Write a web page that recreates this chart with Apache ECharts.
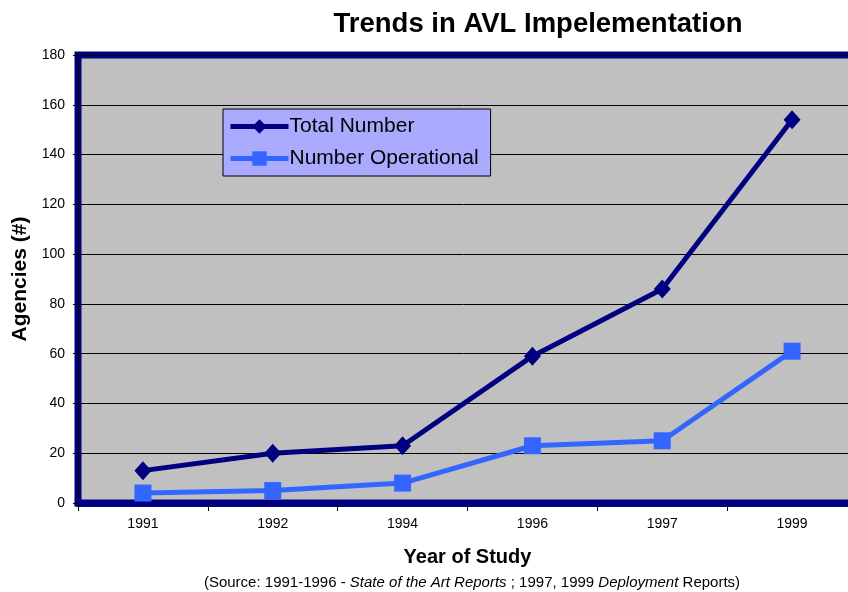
<!DOCTYPE html>
<html>
<head>
<meta charset="utf-8">
<script src="https://cdn.jsdelivr.net/npm/echarts@6/dist/echarts.min.js"></script>
<style>
html, body { margin: 0; padding: 0; background: #fff; }
#main { width: 848px; height: 592px; }
</style>
</head>
<body>
<div id="main"></div>
<script>
var years = ['1991', '1992', '1994', '1996', '1997', '1999'];
var totalNumber = [13, 20, 23, 59, 86, 154];
var numberOperational = [4, 5, 8, 23, 25, 61];
var yTicks = { min: 0, max: 180, interval: 20 };

var font = '"Liberation Sans", Arial, sans-serif';

var option = {
    backgroundColor: '#fff',
    animation: false,
    title: [{
        text: 'Trends in AVL Impelementation',
        left: 533,
        top: 5,
        textAlign: 'center',
        textStyle: { fontFamily: font, fontSize: 27.5, fontWeight: 'bold', color: '#000' }
    }, {
        text: '{n|(Source: 1991-1996 - }{i|State of the Art Reports}{n| ; 1997, 1999 }{i|Deployment}{n| Reports)}',
        left: 467,
        top: 570,
        textAlign: 'center',
        textStyle: {
            fontWeight: 'normal',
            rich: {
                n: { fontFamily: font, fontSize: 15, color: '#000', fontWeight: 'normal' },
                i: { fontFamily: font, fontSize: 15, color: '#000', fontWeight: 'normal', fontStyle: 'italic' }
            }
        }
    }],
    legend: {
        orient: 'vertical',
        left: 223,
        top: 109,
        backgroundColor: '#aaaaff',
        borderColor: '#000',
        borderWidth: 1,
        padding: [7, 12, 7, 5],
        itemGap: 11,
        itemWidth: 58,
        itemHeight: 18,
        lineStyle: { width: 5 },
        textStyle: { fontFamily: font, fontSize: 21, color: '#000', padding: [0, 0, 0, -4] },
        data: ['Total Number', 'Number Operational']
    },
    grid: {
        left: 78,
        top: 55,
        width: 779,
        height: 448,
        outerBoundsMode: 'none',
        show: true,
        backgroundColor: '#c0c0c0',
        borderColor: '#000080',
        borderWidth: 7
    },
    xAxis: {
        type: 'category',
        data: years,
        name: 'Year of Study',
        nameLocation: 'middle',
        nameGap: 44,
        nameTextStyle: { fontFamily: font, fontSize: 20, fontWeight: 'bold', color: '#000' },
        axisLine: { show: true, lineStyle: { color: '#000080', width: 7 } },
        axisTick: { show: true, length: 8, lineStyle: { color: '#000', width: 1 } },
        axisLabel: { fontFamily: font, fontSize: 14, color: '#000', margin: 14 },
        splitLine: { show: false }
    },
    yAxis: {
        type: 'value',
        min: yTicks.min,
        max: yTicks.max,
        interval: yTicks.interval,
        name: 'Agencies (#)',
        nameLocation: 'middle',
        nameGap: 45,
        nameRotate: 90,
        nameTextStyle: { fontFamily: font, fontSize: 21, fontWeight: 'bold', color: '#000' },
        axisLine: { show: true, lineStyle: { color: '#000', width: 1 } },
        axisTick: { show: true, length: 5, lineStyle: { color: '#000' } },
        axisLabel: { fontFamily: font, fontSize: 14, color: '#000', margin: 13 },
        splitLine: { show: true, lineStyle: { color: '#000', width: 1 } }
    },
    series: [{
        name: 'Total Number',
        type: 'line',
        data: totalNumber,
        symbol: 'diamond',
        symbolSize: [17, 19],
        lineStyle: { color: '#000080', width: 5 },
        itemStyle: { color: '#000080' }
    }, {
        name: 'Number Operational',
        type: 'line',
        data: numberOperational,
        symbol: 'rect',
        symbolSize: 17,
        lineStyle: { color: '#3366ff', width: 5 },
        itemStyle: { color: '#3366ff' }
    }]
};

var myChart = echarts.init(document.getElementById('main'));
myChart.setOption(option);
</script>
</body>
</html>
